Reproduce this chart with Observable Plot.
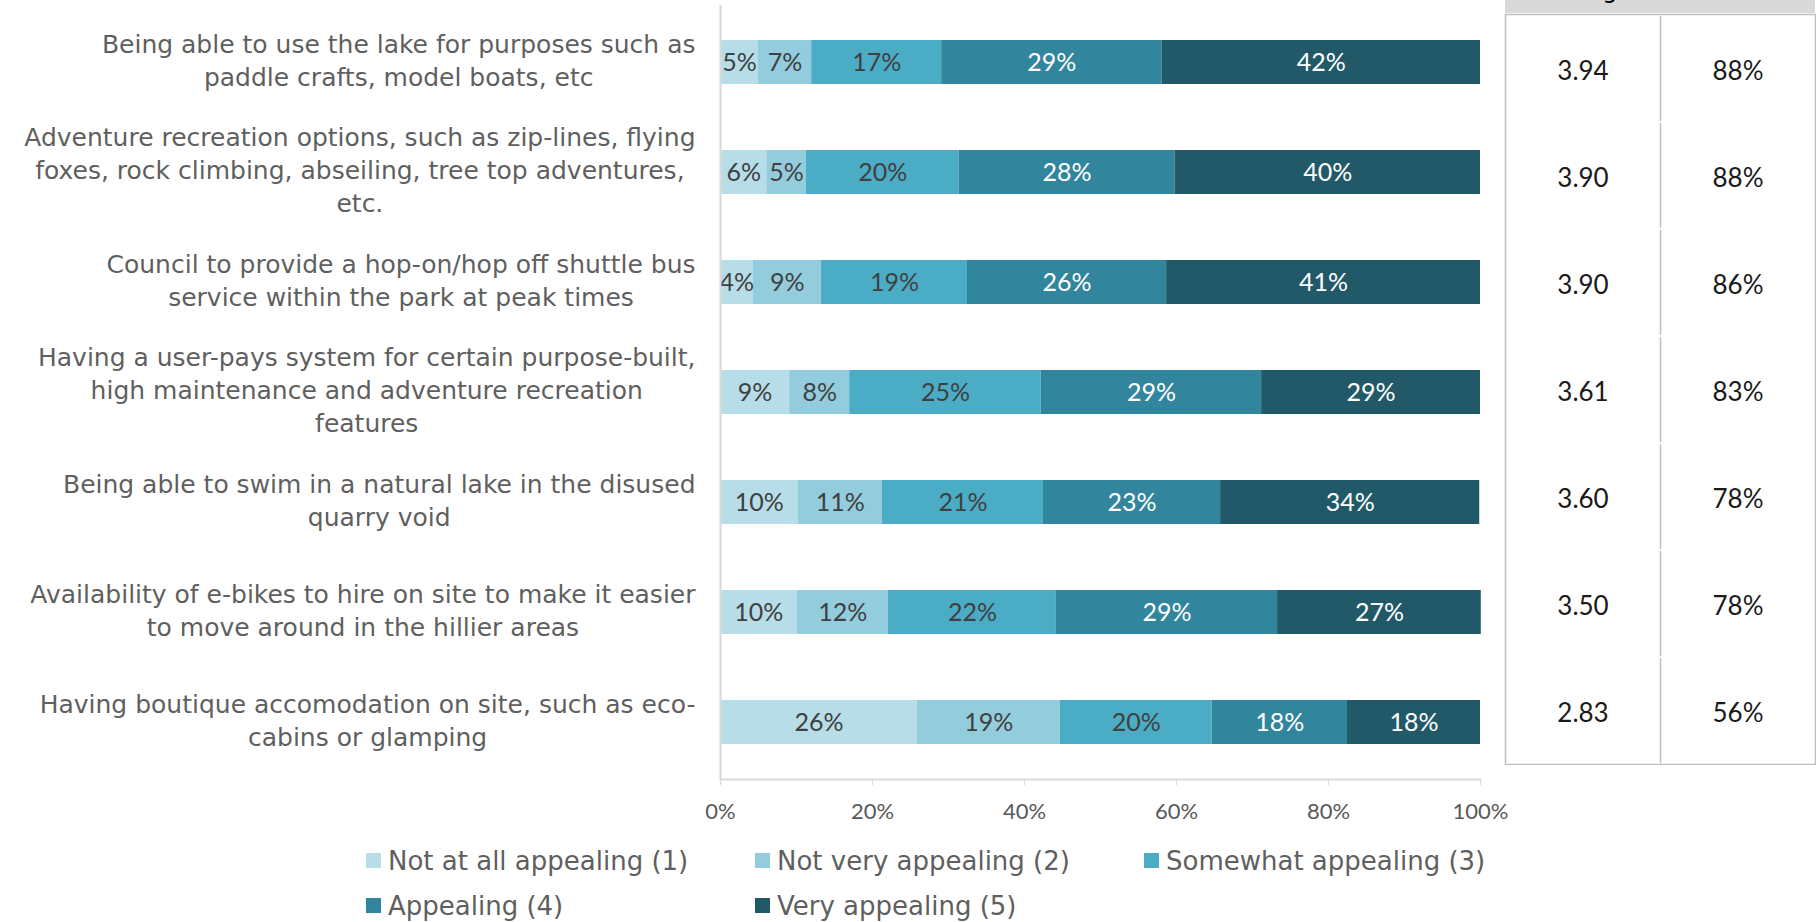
<!DOCTYPE html>
<html>
<head>
<meta charset="utf-8">
<script src="https://cdn.jsdelivr.net/npm/d3@7"></script>
<script src="https://cdn.jsdelivr.net/npm/@observablehq/plot@0.6"></script>
<style>
  html, body { margin: 0; padding: 0; background: #fff; overflow: hidden; }
  #root { position: relative; width: 1816px; height: 922px; overflow: hidden; font-family: Lato, "Open Sans", sans-serif; }
  #main { position: absolute; left: 0; top: 0; }
  #table { position: absolute; left: 1504px; top: 0; }
  #thead { position: absolute; left: 1505px; top: 0; width: 310px; height: 13px; background: #d9d9d9; overflow: hidden; }
  #thead span { position: absolute; top: -22px; font-size: 24px; line-height: 24px; color: #000; white-space: nowrap; transform: translateX(-50%); font-family: "DejaVu Sans", sans-serif; }
  #legend { position: absolute; left: 366px; top: 838px; display: grid; grid-template-columns: 389px 389px 389px; grid-auto-rows: 45px; }
  .item { display: flex; align-items: center; font-size: 26px; color: #5f5f5f; white-space: nowrap; font-family: "DejaVu Sans", sans-serif; }
  .sw { width: 15px; height: 15px; margin-right: 7px; flex: none; }
</style>
</head>
<body>
<div id="root">
  <div id="main"></div>
  <div id="table"></div>
  <div id="thead"><span style="left:78px">Average</span></div>
  <div id="legend"></div>
</div>
<script>
// ---- data ----
const categories = [
  "Being able to use the lake for purposes such as\npaddle crafts, model boats, etc",
  "Adventure recreation options, such as zip-lines, flying\nfoxes, rock climbing, abseiling, tree top adventures,\netc.",
  "Council to provide a hop-on/hop off shuttle bus\nservice within the park at peak times",
  "Having a user-pays system for certain purpose-built,\nhigh maintenance and adventure recreation\nfeatures",
  "Being able to swim in a natural lake in the disused\nquarry void",
  "Availability of e-bikes to hire on site to make it easier\nto move around in the hillier areas",
  "Having boutique accomodation on site, such as eco-\ncabins or glamping"
];
const levels = [
  "Not at all appealing (1)",
  "Not very appealing (2)",
  "Somewhat appealing (3)",
  "Appealing (4)",
  "Very appealing (5)"
];
const notAtAll   = [5.0, 6.1, 4.3, 9.1, 10.2, 10.1, 25.9];
const notVery    = [7.0, 5.2, 9.0, 7.9, 11.1, 12.0, 18.8];
const somewhat   = [17.1, 20.1, 19.2, 25.2, 21.2, 22.1, 20.0];
const appealing  = [29.0, 28.4, 26.2, 29.0, 23.3, 29.1, 17.8];
const very       = [41.9, 40.2, 41.3, 28.8, 34.1, 26.8, 17.5];
const meanScore  = ["3.94", "3.90", "3.90", "3.61", "3.60", "3.50", "2.83"];
const topThree   = ["88%", "88%", "86%", "83%", "78%", "78%", "56%"];
const xTicks = [0, 20, 40, 60, 80, 100];
const colors = ["#b7dee8", "#93cddd", "#4bacc6", "#31859c", "#215968"];

const series = [notAtAll, notVery, somewhat, appealing, very];
const rows = [];
categories.forEach((cat, i) => {
  levels.forEach((lev, j) => rows.push({cat, level: lev, li: j, value: series[j][i]}));
});

const NUMFONT = "Lato, 'Open Sans', sans-serif";
const TXTFONT = "'DejaVu Sans', sans-serif";
const labelSize = 25;

// measure label widths to center lines within each label block (Excel style)
const ctx = document.createElement("canvas").getContext("2d");
ctx.font = `${labelSize}px "DejaVu Sans"`;
const blockWidths = categories.map(c => d3.max(c.split("\n"), l => ctx.measureText(l).width));

const labelMarks = categories.map((c, i) =>
  Plot.text([c], {
    y: d => d,
    frameAnchor: "left",
    text: d => d,
    textAnchor: "middle",
    lineHeight: 1.32,
    dx: -(25 + blockWidths[i] / 2),
    dy: -4,
    fontSize: labelSize,
    fontFamily: TXTFONT,
    fill: "#5f5f5f"
  })
);

const pct = d => Math.round(d.value) + "%";

const chart = Plot.plot({
  width: 1816,
  height: 835,
  marginLeft: 720,
  marginRight: 336,
  marginTop: 5,
  marginBottom: 56,
  style: {fontFamily: NUMFONT, background: "transparent"},
  x: {domain: [0, 100], axis: null},
  y: {domain: categories, axis: null, paddingInner: 0.6, paddingOuter: 0.3},
  color: {domain: levels, range: colors},
  marks: [
    Plot.barX(rows, {x: "value", y: "cat", fill: "level", z: "level"}),
    Plot.text(rows, Plot.filter(d => d.li < 3, Plot.stackX({x: "value", y: "cat", z: "level", text: pct, fill: "#404040", fontSize: 25}))),
    Plot.text(rows, Plot.filter(d => d.li >= 3, Plot.stackX({x: "value", y: "cat", z: "level", text: pct, fill: "white", fontSize: 25}))),
    Plot.ruleX([0], {stroke: "#d9d9d9", strokeWidth: 2}),
    Plot.frame({anchor: "bottom", stroke: "#d9d9d9", strokeWidth: 2}),
    Plot.axisX({ticks: xTicks, tickFormat: d => d + "%", tickSize: 6, tickPadding: 18, label: null, stroke: "#d9d9d9", fill: "#595959", fontSize: 22}),
    ...labelMarks
  ]
});
document.getElementById("main").appendChild(chart);

// ---- side table ----
const tableRows = [];
categories.forEach((cat, i) => {
  tableRows.push({cat, col: 0, text: meanScore[i]});
  tableRows.push({cat, col: 1, text: topThree[i]});
});
const table = Plot.plot({
  width: 312,
  height: 765,
  marginLeft: 1,
  marginRight: 1,
  marginTop: 14,
  marginBottom: 1,
  style: {fontFamily: NUMFONT, background: "transparent"},
  x: {domain: [0, 2], axis: null},
  y: {domain: categories, axis: null, padding: 0},
  marks: [
    Plot.frame({stroke: "#bfbfbf", strokeWidth: 1.5}),
    Plot.tickX(categories, {x: () => 1, y: d => d, stroke: "#bfbfbf", strokeWidth: 1.5, insetTop: 1, insetBottom: 1}),
    Plot.text(tableRows, {x: d => d.col + 0.5, y: "cat", text: "text", dy: 3, fontSize: 26, fill: "#1a1a1a"})
  ]
});
document.getElementById("table").appendChild(table);

// ---- legend ----
const legend = d3.select("#legend");
levels.forEach((lev, j) => {
  const it = legend.append("div").attr("class", "item");
  it.append("div").attr("class", "sw").style("background", colors[j]);
  it.append("span").text(lev);
});
</script>
</body>
</html>
